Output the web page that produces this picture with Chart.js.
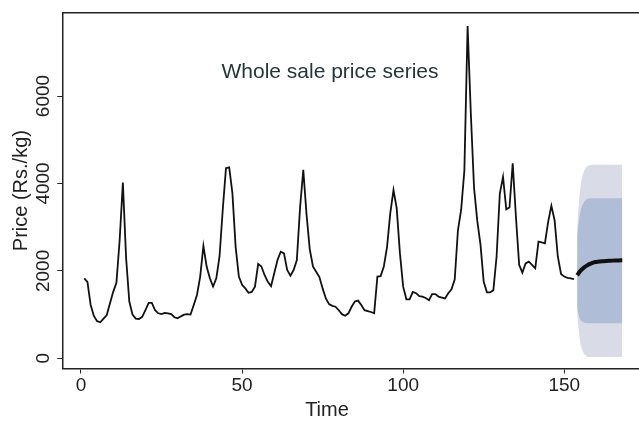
<!DOCTYPE html>
<html>
<head>
<meta charset="utf-8">
<script src="https://cdn.jsdelivr.net/npm/chart.js@4.4.1/dist/chart.umd.min.js"></script>
<style>
    body { margin: 0; background: #fff; }
    canvas { display: block; }
</style>
</head>
<body>
<canvas id="priceChart" width="639" height="421"></canvas>
<script>
// Observed wholesale prices (Rs./kg), time 1..153
const price = [
    1830, 1750, 1220, 970, 850, 825, 910, 990, 1260, 1520,
    1730, 2700, 4020, 2300, 1300, 1000, 910, 900, 950, 1100,
    1270, 1270, 1100, 1030, 1010, 1040, 1030, 1010, 940, 915,
    960, 1000, 1010, 1000, 1220, 1450, 1870, 2570, 2100, 1830,
    1640, 1830, 2330, 3400, 4350, 4370, 3780, 2550, 1870, 1680,
    1600, 1500, 1520, 1640, 2160, 2100, 1900, 1750, 1650, 1950,
    2250, 2440, 2400, 2020, 1890, 2020, 2250, 3450, 4310, 3300,
    2500, 2100, 1980, 1860, 1600, 1370, 1240, 1200, 1180, 1100,
    1010, 975, 1030, 1180, 1300, 1320, 1220, 1100, 1080, 1060,
    1030, 1870, 1880, 2100, 2550, 3320, 3850, 3430, 2400, 1640,
    1350, 1350, 1520, 1490, 1420, 1410, 1380, 1330, 1470, 1470,
    1410, 1390, 1370, 1490, 1580, 1800, 2930, 3400, 4300, 7600,
    5600, 3900, 3150, 2600, 1750, 1510, 1510, 1560, 2330, 3770,
    4150, 3410, 3450, 4460, 3240, 2140, 1960, 2170, 2210, 2140,
    2060, 2670, 2650, 2630, 3120, 3490, 3160, 2330, 1930, 1870,
    1840, 1830, 1810
];

// Forecast, time 154..168
const forecastStart = 154;
const forecastMean = [1900, 2000, 2070, 2120, 2160, 2190, 2205, 2215, 2222, 2228, 2232, 2235, 2238, 2240, 2242];
const upper80 = [2800, 3350, 3560, 3640, 3660, 3660, 3660, 3660, 3660, 3660, 3660, 3660, 3660, 3660, 3660];
const lower80 = [1150, 880, 820, 805, 800, 800, 800, 800, 800, 800, 800, 800, 800, 800, 800];
const upper95 = [3000, 3900, 4250, 4380, 4420, 4430, 4430, 4430, 4430, 4430, 4430, 4430, 4430, 4430, 4430];
const lower95 = [1000, 350, 120, 40, 30, 30, 30, 30, 30, 30, 30, 30, 30, 30, 30];

const xTicks = [0, 50, 100, 150];
const yTicks = [0, 2000, 4000, 6000];

const toPoints = (values, start) => values.map((v, i) => ({ x: start + i, y: v }));

const font = "'Liberation Sans', Arial, sans-serif";

// extra text and the top edge of the box
const extras = {
    id: 'extras',
    afterDraw(chart) {
        const ctx = chart.ctx;
        const area = chart.chartArea;
        ctx.save();
        ctx.strokeStyle = '#222';
        ctx.lineWidth = 1.5;
        ctx.beginPath();
        ctx.moveTo(area.left, area.top);
        ctx.lineTo(area.right, area.top);
        ctx.stroke();

        ctx.fillStyle = '#263636';
        ctx.font = '21px ' + font;
        ctx.textAlign = 'center';
        ctx.textBaseline = 'middle';
        ctx.fillText('Whole sale price series', 330, 72);

        ctx.fillStyle = '#222';
        ctx.font = '20px ' + font;
        ctx.fillText('Time', 327, 410);
        ctx.restore();
    }
};

const ctx = document.getElementById('priceChart').getContext('2d');
new Chart(ctx, {
    type: 'line',
    data: {
        datasets: [
            {
                label: 'Observed',
                data: toPoints(price, 1),
                borderColor: '#111',
                borderWidth: 1.8,
                pointRadius: 0,
                tension: 0,
                fill: false
            },
            {
                label: 'Forecast',
                data: toPoints(forecastMean, forecastStart),
                borderColor: '#111',
                borderWidth: 4,
                pointRadius: 0,
                tension: 0.4,
                fill: false
            },
            {
                label: 'Upper 80',
                data: toPoints(upper80, forecastStart),
                borderWidth: 0,
                borderColor: 'rgba(0,0,0,0)',
                backgroundColor: '#b0bdd7',
                pointRadius: 0,
                tension: 0.4,
                fill: 3
            },
            {
                label: 'Lower 80',
                data: toPoints(lower80, forecastStart),
                borderWidth: 0,
                borderColor: 'rgba(0,0,0,0)',
                pointRadius: 0,
                tension: 0.4,
                fill: false
            },
            {
                label: 'Upper 95',
                data: toPoints(upper95, forecastStart),
                borderWidth: 0,
                borderColor: 'rgba(0,0,0,0)',
                backgroundColor: '#d9dce6',
                pointRadius: 0,
                tension: 0.4,
                fill: 5
            },
            {
                label: 'Lower 95',
                data: toPoints(lower95, forecastStart),
                borderWidth: 0,
                borderColor: 'rgba(0,0,0,0)',
                pointRadius: 0,
                tension: 0.4,
                fill: false
            }
        ]
    },
    options: {
        responsive: false,
        animation: false,
        devicePixelRatio: 1,
        layout: { padding: { top: 12.7, left: 0, right: 0, bottom: 0 } },
        plugins: {
            legend: { display: false },
            tooltip: { enabled: false }
        },
        scales: {
            x: {
                type: 'linear',
                min: -5.8,
                max: 173.2,
                afterFit: s => { s.height = 52.5; },
                afterBuildTicks: s => { s.ticks = xTicks.map(v => ({ value: v })); },
                grid: { drawOnChartArea: false, drawTicks: true, tickLength: 5, color: '#222', lineWidth: 1 },
                border: { display: true, color: '#222', width: 1.5 },
                ticks: {
                    color: '#222',
                    padding: 1,
                    maxRotation: 0,
                    callback: v => String(v),
                    font: { family: font, size: 19 }
                }
            },
            y: {
                type: 'linear',
                min: -233,
                max: 7907,
                afterFit: s => { s.width = 62.3; },
                afterBuildTicks: s => { s.ticks = yTicks.map(v => ({ value: v })); },
                grid: { drawOnChartArea: false, drawTicks: true, tickLength: 5, color: '#222', lineWidth: 1 },
                border: { display: true, color: '#222', width: 1.5 },
                ticks: {
                    color: '#222',
                    minRotation: 90,
                    maxRotation: 90,
                    crossAlign: 'center',
                    padding: -8,
                    callback: v => String(v),
                    font: { family: font, size: 19 }
                },
                title: {
                    display: true,
                    text: 'Price (Rs./kg)',
                    color: '#222',
                    padding: { top: 9, bottom: 0 },
                    font: { family: font, size: 20 }
                }
            }
        }
    },
    plugins: [extras]
});
</script>
</body>
</html>
